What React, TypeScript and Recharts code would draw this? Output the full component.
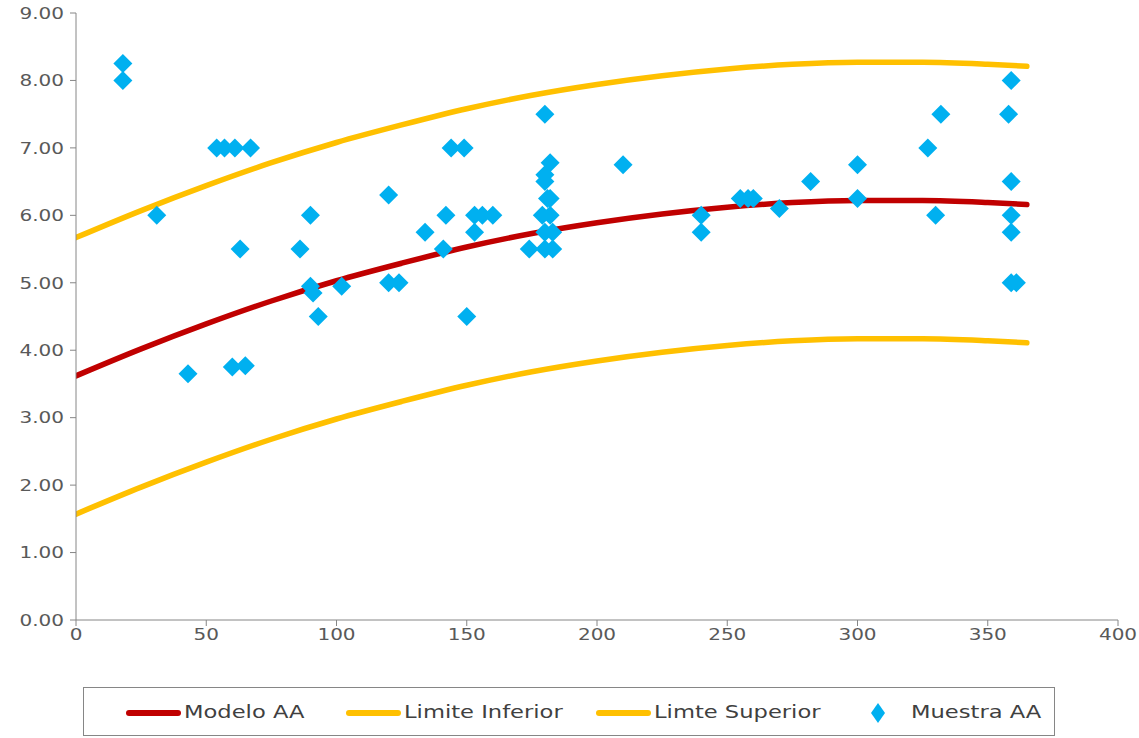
import React from "react";
import { ComposedChart, Line, Scatter, XAxis, YAxis, Legend } from "recharts";

const curveX = [0, 25, 50, 75, 100, 125, 150, 175, 200, 225, 250, 275, 300, 325, 350, 365];
const modelo = [3.62, 4.02, 4.39, 4.73, 5.03, 5.29, 5.53, 5.73, 5.89, 6.02, 6.12, 6.19, 6.22, 6.22, 6.19, 6.16];
const limiteInferior = [1.57, 1.97, 2.34, 2.68, 2.98, 3.24, 3.48, 3.68, 3.84, 3.97, 4.07, 4.14, 4.17, 4.17, 4.14, 4.11];
const limiteSuperior = [5.67, 6.07, 6.44, 6.78, 7.08, 7.34, 7.58, 7.78, 7.94, 8.07, 8.17, 8.24, 8.27, 8.27, 8.24, 8.21];

const muestraX = [18, 18, 31, 43, 54, 57, 61, 67, 63, 60, 65, 86, 90, 90, 91, 93, 102, 120, 120, 124, 134, 141, 142, 144, 149, 150, 153, 156, 160, 153, 174, 180, 182, 180, 180, 181, 182, 179, 182, 180, 183, 180, 183, 210, 240, 240, 255, 258, 260, 270, 282, 300, 300, 327, 330, 332, 359, 358, 359, 359, 359, 359, 361];
const muestraY = [8.25, 8.0, 6.0, 3.65, 7.0, 7.0, 7.0, 7.0, 5.5, 3.75, 3.77, 5.5, 6.0, 4.95, 4.85, 4.5, 4.95, 6.3, 5.0, 5.0, 5.75, 5.5, 6.0, 7.0, 7.0, 4.5, 6.0, 6.0, 6.0, 5.75, 5.5, 7.5, 6.78, 6.6, 6.5, 6.25, 6.25, 6.0, 6.0, 5.75, 5.75, 5.5, 5.5, 6.75, 6.0, 5.75, 6.25, 6.25, 6.25, 6.1, 6.5, 6.75, 6.25, 7.0, 6.0, 7.5, 8.0, 7.5, 6.5, 6.0, 5.75, 5.0, 5.0];

const xTicks = [0, 50, 100, 150, 200, 250, 300, 350, 400];
const yTicks = [0, 1, 2, 3, 4, 5, 6, 7, 8, 9];

const seriesNames = ["Modelo AA", "Limite Inferior", "Limte Superior", "Muestra AA"];

const RED = "#C00000";
const YELLOW = "#FFC000";
const BLUE = "#00B0F0";
const AXIS = "#868686";
const TEXT = "#595959";
const FONT = "'DejaVu Sans', sans-serif";
const TICK_STRETCH = 1.25;
const LEGEND_STRETCH = 1.33;

const modeloData = curveX.map((x, i) => ({ x, y: modelo[i] }));
const inferiorData = curveX.map((x, i) => ({ x, y: limiteInferior[i] }));
const superiorData = curveX.map((x, i) => ({ x, y: limiteSuperior[i] }));
const muestraData = muestraX.map((x, i) => ({ x, y: muestraY[i] }));

const YTick = (props: any) => {
  const { x, y, payload } = props;
  return (
    <g transform={`translate(${x},${y})`}>
      <text
        transform={`scale(${TICK_STRETCH},1)`}
        textAnchor="end"
        dominantBaseline="central"
        fontFamily={FONT}
        fontSize={16}
        fill={TEXT}
      >
        {Number(payload.value).toFixed(2)}
      </text>
    </g>
  );
};

const XTick = (props: any) => {
  const { x, y, payload } = props;
  return (
    <g transform={`translate(${x},${y})`}>
      <text
        transform={`scale(${TICK_STRETCH},1)`}
        textAnchor="middle"
        dominantBaseline="central"
        y={6}
        fontFamily={FONT}
        fontSize={16}
        fill={TEXT}
      >
        {payload.value}
      </text>
    </g>
  );
};

const Diamond = (props: any) => {
  const { cx, cy } = props;
  const r = 9.5;
  return (
    <path
      d={`M${cx},${cy - r}L${cx + r},${cy}L${cx},${cy + r}L${cx - r},${cy}Z`}
      fill={BLUE}
      stroke="none"
    />
  );
};

const labelStyle: React.CSSProperties = {
  position: "absolute",
  top: 14,
  fontFamily: FONT,
  fontSize: 17,
  color: "#404040",
  transform: `scaleX(${LEGEND_STRETCH})`,
  transformOrigin: "left center",
  whiteSpace: "nowrap",
  lineHeight: "20px",
};

const lineIcon = (left: number, color: string): React.CSSProperties => ({
  position: "absolute",
  left,
  top: 22,
  width: 55,
  height: 6,
  borderRadius: 3,
  background: color,
});

const CustomLegend = () => (
  <div
    style={{
      position: "relative",
      width: 972,
      height: 49,
      boxSizing: "border-box",
      border: `1.5px solid ${AXIS}`,
      background: "#fff",
    }}
  >
    <div style={lineIcon(42, RED)} />
    <span style={{ ...labelStyle, left: 100 }}>{seriesNames[0]}</span>
    <div style={lineIcon(262, YELLOW)} />
    <span style={{ ...labelStyle, left: 320 }}>{seriesNames[1]}</span>
    <div style={lineIcon(512, YELLOW)} />
    <span style={{ ...labelStyle, left: 570 }}>{seriesNames[2]}</span>
    <svg style={{ position: "absolute", left: 785, top: 14 }} width={18} height={22}>
      <path d="M9,1L16,11L9,21L2,11Z" fill={BLUE} />
    </svg>
    <span style={{ ...labelStyle, left: 827 }}>{seriesNames[3]}</span>
  </div>
);

export default function App() {
  return (
    <div style={{ position: "absolute", left: 0, top: 0, background: "#fff" }}>
      <ComposedChart
        width={1139}
        height={738}
        margin={{ top: 13, right: 21, left: 0, bottom: 2 }}
      >
        <XAxis
          type="number"
          dataKey="x"
          domain={[0, 400]}
          ticks={xTicks}
          allowDataOverflow
          height={67}
          stroke={AXIS}
          tickSize={6}
          tickLine={{ stroke: AXIS }}
          tick={<XTick />}
        />
        <YAxis
          type="number"
          dataKey="y"
          domain={[0, 9]}
          ticks={yTicks}
          allowDataOverflow
          width={76}
          stroke={AXIS}
          tickSize={6}
          tickMargin={6}
          tickLine={{ stroke: AXIS }}
          tick={<YTick />}
        />
        <Legend
          verticalAlign="bottom"
          align="left"
          wrapperStyle={{ left: 83, width: 972 }}
          content={<CustomLegend />}
        />
        <Line
          data={inferiorData}
          dataKey="y"
          name={seriesNames[1]}
          type="monotone"
          stroke={YELLOW}
          strokeWidth={5.5}
          strokeLinecap="round"
          dot={false}
          activeDot={false}
          isAnimationActive={false}
        />
        <Line
          data={superiorData}
          dataKey="y"
          name={seriesNames[2]}
          type="monotone"
          stroke={YELLOW}
          strokeWidth={5.5}
          strokeLinecap="round"
          dot={false}
          activeDot={false}
          isAnimationActive={false}
        />
        <Line
          data={modeloData}
          dataKey="y"
          name={seriesNames[0]}
          type="monotone"
          stroke={RED}
          strokeWidth={5.5}
          strokeLinecap="round"
          dot={false}
          activeDot={false}
          isAnimationActive={false}
        />
        <Scatter
          data={muestraData}
          dataKey="y"
          name={seriesNames[3]}
          fill={BLUE}
          shape={<Diamond />}
          isAnimationActive={false}
        />
      </ComposedChart>
    </div>
  );
}
